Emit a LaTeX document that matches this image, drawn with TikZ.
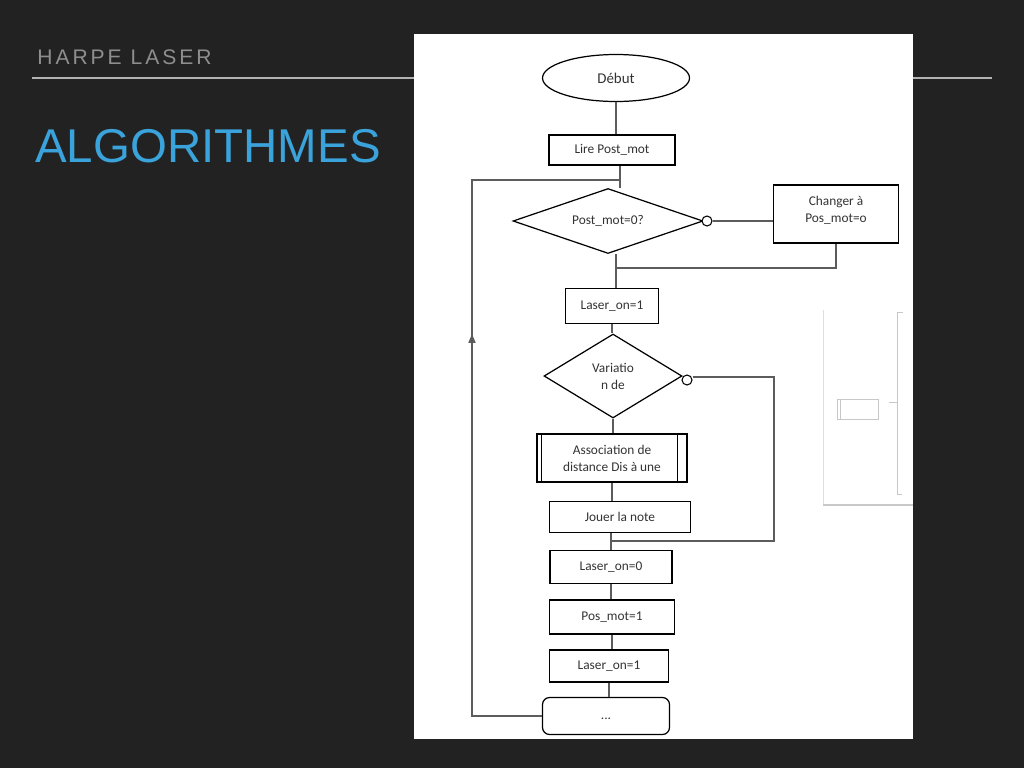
\documentclass[tikz,border=0pt]{standalone}
\usepackage{fontspec}
\setmainfont{Liberation Sans}
\newfontfamily\chartfont{Carlito}
\newfontfamily\spacedfont[LetterSpace=14]{Liberation Sans}
\usetikzlibrary{calc,shapes.geometric,arrows.meta}

\definecolor{slidebg}{HTML}{222222}
\definecolor{titleblue}{HTML}{3BA3DB}
\definecolor{headgray}{HTML}{8E8E8E}
\definecolor{rulegray}{HTML}{B3B3B3}
\definecolor{ink}{HTML}{333333}
\definecolor{faint}{HTML}{C8C8C8}

\tikzset{
  chart/.style={draw=black, line width=0.7pt, text=ink, inner sep=1pt,
    font=\chartfont\fontsize{7.6}{9.6}\selectfont, align=center},
  stepbox/.style={chart, rectangle},
  testbox/.style={chart, diamond, inner sep=0pt},
  nobubble/.style={draw=black, line width=0.6pt, circle, fill=white,
    minimum size=0.2cm, inner sep=0pt},
  link/.style={draw=ink!80, line width=0.8pt},
}

\begin{document}
\begin{tikzpicture}[x=0.02cm, y=-0.02cm]
  \useasboundingbox (0,0) rectangle (1024,768);
  \fill[slidebg] (0,0) rectangle (1024,768);

  % slide header
  \draw[rulegray, line width=1.6pt] (32,78) -- (992,78);
  \node[anchor=base west, inner sep=0pt, text=headgray,
    font=\spacedfont\fontsize{12}{14}\selectfont] (head) at (37,64) {HARPE LASER};
  \node[anchor=base west, inner sep=0pt, text=titleblue,
    font=\fontsize{27}{32}\selectfont] (title) at (35,162) {ALGORITHMES};

  % pasted flowchart
  \fill[white] (414,34) rectangle (913,739);

  % stray thumbnail on the right
  \draw[faint!60, line width=0.4pt] (823,310) -- (823,505);
  \draw[faint, line width=0.6pt] (823,505) -- (913,505);
  \draw[faint, line width=0.5pt] (903,312) -- (897,312) -- (897,494) -- (902,494);
  \draw[faint, line width=0.5pt] (889,402) -- (897,402);
  \draw[faint, line width=0.5pt] (837,399) rectangle (878,419);
  \draw[faint, line width=0.5pt] (840,399) -- (840,419);

  \node[chart, ellipse, minimum width=2.94cm, minimum height=0.94cm] (debut) at (616,78) {\fontsize{8.5}{10}\selectfont Début};
  \node[stepbox, minimum width=2.52cm, minimum height=0.60cm] (lire) at (612,150) {Lire Post\_mot};
  \node[testbox, aspect=2.9, minimum width=3.8cm, minimum height=1.3cm] (test) at (608,221) {Post\_mot=0?};
  \node[nobubble] (no1) at (707,221) {};
  \node[stepbox, minimum width=2.5cm, minimum height=1.16cm] (change) at (836,214) {Changer à\\Pos\_mot=o\\[-4.5pt]};
  \node[stepbox, minimum width=1.86cm, minimum height=0.70cm] (laseron) at (612,306) {Laser\_on=1};
  \node[testbox, aspect=1.64, minimum width=2.76cm, minimum height=1.68cm] (vari) at (613,376) {Variatio\\n de};
  \node[nobubble] (no2) at (687,380) {};
  \node[stepbox, minimum width=3.0cm, minimum height=0.96cm] (assoc) at (612,458) {Association de\\distance Dis à une};
  \draw[black, line width=0.7pt] ($(assoc.north west)+(5,0)$) -- ($(assoc.south west)+(5,0)$);
  \draw[black, line width=0.7pt] ($(assoc.north east)+(-10,0)$) -- ($(assoc.south east)+(-10,0)$);
  \node[stepbox, minimum width=2.82cm, minimum height=0.62cm] (jouer) at (620,517) {Jouer la note};
  \node[stepbox, minimum width=2.44cm, minimum height=0.66cm] (laseroff) at (611,567) {Laser\_on=0};
  \node[stepbox, minimum width=2.5cm, minimum height=0.68cm] (posmot) at (612,617) {Pos\_mot=1};
  \node[stepbox, minimum width=2.38cm, minimum height=0.64cm] (laseron2) at (609,666) {Laser\_on=1};
  \node[stepbox, rounded corners=4pt, minimum width=2.54cm, minimum height=0.74cm] (fin) at (606,716) {\raisebox{-4pt}{...}};

  \coordinate (loopTop) at (472,180);
  \coordinate (loopBot) at (472,714);
  \coordinate (loopTip) at (472,334);
  \coordinate (merge1) at (616,268);
  \coordinate (skipTop) at (774,377);
  \coordinate (skipBot) at (774,541);

  \draw[link] (debut.south) -- (debut.south |- lire.north);
  \draw[link] (lire.south -| 620,0) -- (test.north -| 620,0);
  \draw[link] (fin.west) -- (fin.west -| loopBot) -- (loopTop) -- (loopTop -| 620,0);
  \draw[link, -{Triangle[length=5pt, width=4pt]}] ($(loopTip)+(0,20)$) -- (loopTip);
  \draw[link] (no1.east) -- (no1.east -| change.west);
  \draw[link] (change.south) -- (change.south |- merge1) -- (merge1);
  \draw[link] (test.south -| merge1) -- (merge1 |- laseron.north);
  \draw[link] (laseron.south) -- (laseron.south |- vari.north);
  \draw[link] (no2.east |- skipTop) -- (skipTop) -- (skipBot) -- (skipBot -| laseroff.north);
  \draw[link] (vari.south) -- (vari.south |- assoc.north);
  \draw[link] (assoc.south) -- (assoc.south |- jouer.north);
  \draw[link] (jouer.south -| laseroff.north) -- (laseroff.north);
  \draw[link] (laseroff.south) -- (laseroff.south |- posmot.north);
  \draw[link] (posmot.south) -- (posmot.south |- laseron2.north);
  \draw[link] (laseron2.south) -- (laseron2.south |- fin.north);
\end{tikzpicture}
\end{document}
